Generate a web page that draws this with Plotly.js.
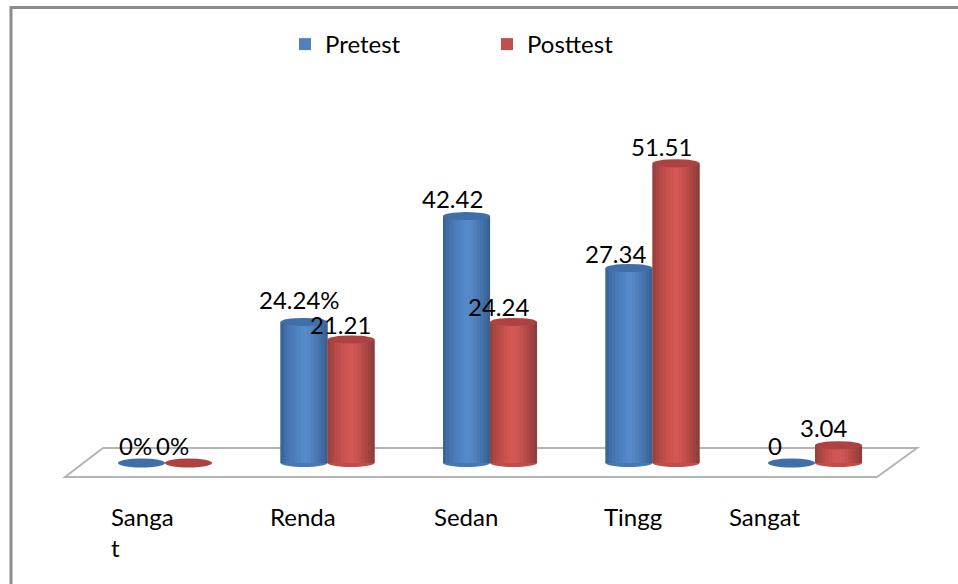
<!DOCTYPE html>
<html><head><meta charset="utf-8">
<script src="https://cdn.plot.ly/plotly-3.0.1.min.js"></script>
<style>html,body{margin:0;padding:0;background:#fff}#c{width:958px;height:584px}</style></head>
<body><div id="c"></div>
<script>
const categories = ["Sangat Rendah","Rendah","Sedang","Tinggi","Sangat Tinggi"];
const tickLabels = ["Sanga<br>t","Renda","Sedan","Tingg","Sangat"];
const pretest = [0,24.24,42.42,33.5,0];
const posttest = [0,21.21,24.24,51.51,3.04];
const pretestLabels = ["0%","24.24%","42.42","27.34","0"];
const posttestLabels = ["0%","21.21","24.24","51.51","3.04"];

const W=958,H=584,x0=165,dx=162.5,y0=463,sy=5.82,barW=47;
const idx=categories.map((_,i)=>i);
const xr=[-x0/dx,(W-x0)/dx], yr=[-(H-y0)/sy,y0/sy];
const bw=barW/dx;
const blueShades=["#3b6599","#406ea6","#4674b0","#4a7ab7","#4d7fbc","#5085c2","#5589c7","#568ac8","#5487c4","#4f81bd","#4a7ab4","#4473aa","#3f6a9f","#3a6193"];
const redShades=["#9a4240","#a84644","#b54a47","#bf4e4b","#c85250","#cf5553","#d25855","#d25855","#cc5451","#c35050","#b84b48","#aa4643","#9c4240","#8e3e3c"];
const traces=[];
function series(vals,name,col,shades,off){
  traces.push({type:'bar',x:idx,y:vals,name,showlegend:false,marker:{color:col,line:{width:0}},offset:off,width:bw,hoverinfo:'skip'});
  const n=shades.length;
  shades.forEach((c,k)=>traces.push({type:'bar',x:idx,y:vals,showlegend:false,marker:{color:c,line:{width:0}},
    offset:off+bw*k/n,width:bw/n+0.0005,hoverinfo:'skip'}));
  traces.push({type:'scatter',mode:'markers',x:[null],y:[null],name,marker:{symbol:'square',size:14,color:col,line:{width:0}},hoverinfo:'skip'});
}
series(pretest,'Pretest','#4f81bd',blueShades,-bw);
series(posttest,'Posttest','#c0504d',redShades,0);

const shapes=[
 {type:'rect',xref:'paper',yref:'paper',x0:11/W,x1:1.2,y0:-0.2,y1:1-7.5/H,line:{color:'#8c8c8c',width:3},fillcolor:'rgba(0,0,0,0)',layer:'below'},
 {type:'path',xref:'paper',yref:'paper',path:`M ${65/W} ${1-477/H} L ${877/W} ${1-477/H} L ${917/W} ${1-448/H} L ${103/W} ${1-448/H} Z`,line:{color:'#b4b4b4',width:2},fillcolor:'#fff',layer:'below'}
];
function caps(vals,off,top,bottom){
  vals.forEach((v,i)=>{
    const a=i+off,b=i+off+bw,ry=(v?4:4.5)/sy;
    shapes.push({type:'circle',xref:'x',yref:'y',x0:a,x1:b,y0:-ry,y1:ry,fillcolor:v?bottom:top,line:{width:0},layer:v?'below':'above'});
    if(v) shapes.push({type:'circle',xref:'x',yref:'y',x0:a,x1:b,y0:v-ry,y1:v+ry,fillcolor:top,line:{width:0},layer:'above'});
  });
}
caps(pretest,-bw,'#3f6ea8','#4678b5');
caps(posttest,0,'#ad4240','#c04d4a');

const fnt={family:'Lato, "Noto Sans", sans-serif',size:24,color:'#000'};
const annotations=[];
const preShift=[[-6,18],[-5,22],[-14,18],[-14,15],[-17,18]];
const postShift=[[-16,18],[-11,14.6],[-15,15],[-15,17],[-15,18]];
function lab(vals,texts,off,shift){
  vals.forEach((v,i)=>annotations.push({x:i+off,y:v,xref:'x',yref:'y',text:texts[i],showarrow:false,font:fnt,
    xanchor:'center',yanchor:'middle',xshift:shift[i][0],yshift:shift[i][1]}));
}
lab(pretest,pretestLabels,-bw/2,preShift);
lab(posttest,posttestLabels,bw/2,postShift);
const tickPx=[109,268,432,602,727];
tickLabels.forEach((t,i)=>annotations.push({x:tickPx[i]/W,y:1-500/H,xref:'paper',yref:'paper',text:t,showarrow:false,
  align:'left',xanchor:'left',yanchor:'top',font:fnt}));

Plotly.newPlot('c',traces,{
  width:W,height:H,margin:{l:0,r:0,t:0,b:0},paper_bgcolor:'#fff',plot_bgcolor:'rgba(0,0,0,0)',
  barmode:'overlay',showlegend:true,
  xaxis:{range:xr,visible:false,fixedrange:true},
  yaxis:{range:yr,visible:false,fixedrange:true},
  legend:{orientation:'h',x:285/W,y:1-22/H,xanchor:'left',yanchor:'top',font:fnt,entrywidth:157,entrywidthmode:'pixels',bgcolor:'rgba(0,0,0,0)',itemsizing:'constant',traceorder:'normal'},
  shapes,annotations
},{displayModeBar:false,staticPlot:true});
</script></body></html>
